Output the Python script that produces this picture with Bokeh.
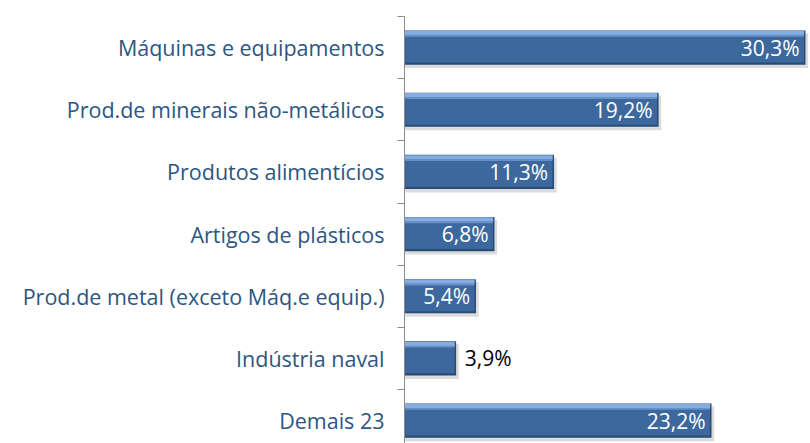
from bokeh.plotting import figure
from bokeh.models import Range1d, FixedTicker, ColumnDataSource
from bokeh.core.properties import value
from bokeh.embed import file_html
from bokeh.resources import INLINE

categories = ["Máquinas e equipamentos", "Prod.de minerais não-metálicos",
              "Produtos alimentícios", "Artigos de plásticos",
              "Prod.de metal (exceto Máq.e equip.)", "Indústria naval", "Demais 23"]
values = [30.3, 19.2, 11.3, 6.8, 5.4, 3.9, 23.2]
labels = ["30,3%", "19,2%", "11,3%", "6,8%", "5,4%", "3,9%", "23,2%"]

n = len(categories)
pos = [i + 0.5 for i in range(n)]
bounds = [float(i) for i in range(n + 1)]

FONT = "Open Sans"
LABEL_COLOR = "#2C5683"

p = figure(width=810, height=443, output_backend="svg", toolbar_location=None,
           x_range=Range1d(0, 30.68), y_range=Range1d(6.868, 0),
           min_border_left=404, min_border_right=0, min_border_top=16, min_border_bottom=0)
p.outline_line_color = None
p.xaxis.visible = False
p.xgrid.visible = False
p.ygrid.visible = False
p.background_fill_color = "white"

yax = p.yaxis[0]
yax.ticker = FixedTicker(ticks=pos, minor_ticks=bounds)
yax.major_label_overrides = {p_: c for p_, c in zip(pos, categories)}
yax.major_tick_out = 0
yax.major_tick_in = 0
yax.minor_tick_out = 7
yax.minor_tick_in = 0
yax.minor_tick_line_color = "#8C8C8C"
yax.axis_line_color = "#8C8C8C"
yax.major_label_text_font = FONT
yax.major_label_text_font_size = "21.5px"
yax.major_label_text_color = LABEL_COLOR
yax.major_label_standoff = 13

src = ColumnDataSource(dict(y=pos, v=values, lab=labels))
shadow_y = [y + 0.05 for y in pos]
shadow_v = [v + 0.2 for v in values]
sh = ColumnDataSource(dict(y=shadow_y, v=shadow_v))

# shadow
p.hbar(y="y", left=0.05, right="v", height=0.56, source=sh, fill_color="#9a9a9a",
       fill_alpha=0.35, line_color=None)
# base (dark edge)
p.hbar(y="y", left=0, right="v", height=0.55, source=src, fill_color="#274C78", line_color=None)
# main body
mid_y = [y + 0.005 for y in pos]
p.hbar(y=mid_y, left=[0.05] * n, right=[v - 0.12 for v in values], height=0.47,
       fill_color="#3D689E", line_color=None)
# top highlight
top_y = [y - 0.235 for y in pos]
p.hbar(y=top_y, left=[0.02] * n, right=[v - 0.1 for v in values], height=0.07,
       fill_color="#86ADE0", line_color=None)
top_y2 = [y - 0.19 for y in pos]
p.hbar(y=top_y2, left=[0.05] * n, right=[v - 0.12 for v in values], height=0.03,
       fill_color="#6690C8", line_color=None)

# value labels
inside = [i for i in range(n) if values[i] >= 5]
outside = [i for i in range(n) if values[i] < 5]
p.text(x=[values[i] - 0.45 for i in inside], y=[pos[i] for i in inside],
       text=[labels[i] for i in inside], text_color="white",
       text_font=value(FONT), text_font_size="21px", text_align="right",
       text_baseline="middle")
p.text(x=[values[i] + 0.65 for i in outside], y=[pos[i] for i in outside],
       text=[labels[i] for i in outside], text_color="black",
       text_font=value(FONT), text_font_size="21px", text_font_style="normal",
       text_align="left", text_baseline="middle")

open("out.html", "w").write(file_html(p, INLINE))
